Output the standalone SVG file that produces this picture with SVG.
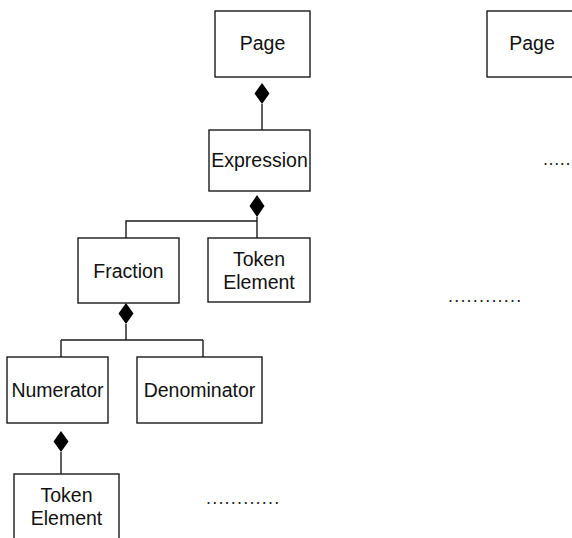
<svg xmlns="http://www.w3.org/2000/svg" width="572" height="538" viewBox="0 0 572 538">
<style>
.box{fill:#fff;stroke:#1a1a1a;stroke-width:1.4}
.lbl{font-family:"Liberation Sans",Arial,sans-serif;font-size:19.5px;fill:#111;text-anchor:middle}
.dots{font-family:"Liberation Sans",Arial,sans-serif;font-size:18px;fill:#222;letter-spacing:1.2px}
.ln{fill:none;stroke:#1a1a1a;stroke-width:1.4}
.dia{fill:#000;stroke:none}
</style>
<rect width="572" height="538" fill="#fff"/>
<g id="connectors">
<path class="ln" d="M262 104V130"/>
<path class="dia" d="M262 83L269.5 93.5L262 104L254.5 93.5Z"/>
<path class="ln" d="M257 217V238M257 221H126V238"/>
<path class="dia" d="M257 195L264.5 206L257 217L249.5 206Z"/>
<path class="ln" d="M126 324V340M61 340H203M61 340V357M203 340V357"/>
<path class="dia" d="M126 303L133.5 313.5L126 324L118.5 313.5Z"/>
<path class="ln" d="M61 452V474"/>
<path class="dia" d="M61 431L68.5 441.5L61 452L53.5 441.5Z"/>
</g>
<g id="page1"><rect class="box" x="215" y="11" width="95" height="66"/><text class="lbl" x="262.5" y="50">Page</text></g>
<g id="expression"><rect class="box" x="209" y="130" width="101" height="61"/><text class="lbl" x="259.5" y="167">Expression</text></g>
<g id="fraction"><rect class="box" x="78" y="238" width="101" height="65"/><text class="lbl" x="128.5" y="278">Fraction</text></g>
<g id="token1"><rect class="box" x="208" y="238" width="102" height="64"/><text class="lbl" x="259" y="266">Token</text><text class="lbl" x="259" y="289">Element</text></g>
<g id="numerator"><rect class="box" x="7" y="357" width="101" height="66"/><text class="lbl" x="57.5" y="397">Numerator</text></g>
<g id="denominator"><rect class="box" x="137" y="357" width="125" height="66"/><text class="lbl" x="199.5" y="397">Denominator</text></g>
<g id="token2"><rect class="box" x="14" y="474" width="105" height="70"/><text class="lbl" x="66.5" y="502">Token</text><text class="lbl" x="66.5" y="525">Element</text></g>
<g id="page2"><rect class="box" x="487" y="11" width="100" height="66"/><text class="lbl" x="532" y="50">Page</text></g>
<g id="ellipses">
<text class="dots" x="206" y="504">............</text>
<text class="dots" x="448" y="302">............</text>
<text class="dots" x="543" y="165" style="letter-spacing:0.6px">.....</text>
</g>
</svg>
